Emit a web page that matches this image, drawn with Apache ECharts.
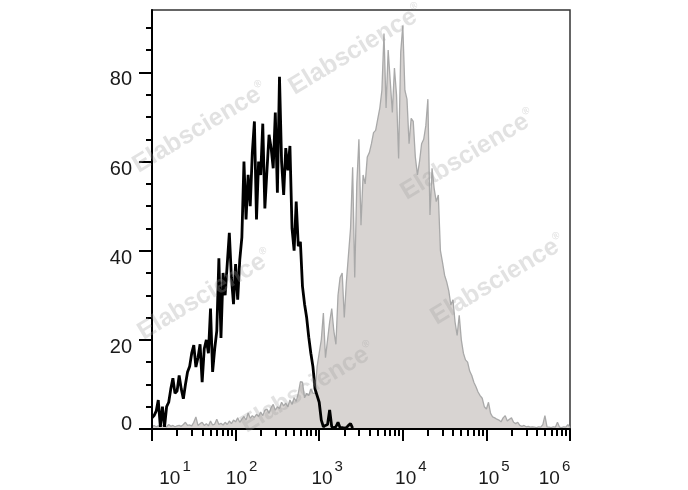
<!DOCTYPE html>
<html>
<head>
<meta charset="utf-8">
<script src="https://cdn.jsdelivr.net/npm/echarts@6/dist/echarts.min.js"></script>
<style>
html,body{margin:0;padding:0;background:#fff;}
#c{width:688px;height:490px;}
</style>
</head>
<body>
<div id="c"></div>
<script>
// ---------- data (x in decades: log10 of fluorescence intensity) ----------
const binStart = 1.0;
const binWidth = 0.025;

// black outline histogram (control)
const controlCounts = [2.5,3,4,6.5,0.5,5,0.5,5,6,9,11.4,8,8.5,12,9,6.8,10,12.8,14,17,
  18.8,13.9,16,19,10.5,18,20,17,27,12.8,18,22,38.3,20.4,35,30,37,44,34,28,
  37,29,38,43,60,47,57,50,62,69,47,60,57,68.5,49.5,58,66,63,58.5,71,
  53,79,60,52.5,63,58,63.5,45,40,51,41,42,32,28,25,20.6,17,14,9,7.5,
  6,2,0.5,0.8,1,4.3,0.5,0.3,0.5,1.5,0.3,0.3,0.2,0.3,0.8,1.2,0.2];

// grey filled histogram (stained)
const stainedCounts = [0.5,0.8,0.5,0.7,0.5,0.8,0.6,0.5,1,0.6,
  0.8,0.5,0.7,0.8,0.6,1,1.5,0.8,0.9,0.7,
  1.5,2.7,0.8,1.2,1.5,0.8,1.2,0.7,1.8,0.9,
  1.1,2.2,1,1.3,0.9,1.5,1,1.8,1.2,2,
  1.6,2.5,1.5,2.2,2.8,2,3.6,2.4,3,2.6,
  3.3,2.8,3.8,3,4.2,4.5,3.5,4.8,5.5,4.2,
  5,4.6,6,5.2,5.8,5,6.5,5.5,7,6.2,
  8,10.6,10.5,7,8,7.5,9,8,8,14,
  17,20,26,16,20,24,27,22,19,30,
  34,35,25,33,39,45,58.7,34,55,65,
  45.7,57,55,61,62,64,66.5,67,69.5,72,
  76,88.7,72,85,78,71,81,75,60.7,84.5,
  90.5,76,74,64,69.7,69,61,57,60,64,
  65,68,74,48,58.5,54,51,52.5,40,37.4,
  34.5,33,31,27.8,29,24,21,25.5,20,17,
  15.5,15,13,12,10.5,9.5,8.3,7.5,6.9,5,
  4.5,6,3.5,2.7,2.5,2.2,2,1.6,2.5,3,
  1.8,2.2,2.5,1.5,1.2,1.5,0.8,0.6,0.8,0.5,
  0.6,0.4,0.5,0.4,0.3,0.5,0.4,1,3,0.5,
  0.4,0.3,0.5,0.4,1.5,0.4,0.3,0.5,0.4,1,
  0.3];

// axis ticks
const decades = [1,2,3,4,5,6];
const minorMultipliers = [2,3,4,5,6,7,8,9];
const yMajorTicks = [0,20,40,60,80];
const yMinorTicks = [5,10,15,25,30,35,45,50,55,65,70,75,85,90];
const yMax = 94;
const watermarkText = 'Elabscience';

// ---------- layout / style (not data) ----------
const watermarkCenters = [[200,128],[356,50],[468,155],[205,295],[498,280],[308,388]];
const xLabelLeftPad = {1:46, 2:12, 3:16, 4:16, 5:15, 6:0};
const xLabelRightPad = {1:0, 2:0, 3:0, 4:0, 5:0, 6:31};
const FONT = 'Arial, "Liberation Sans", Helvetica, sans-serif';

const toPairs = arr => arr.map((v, i) => [binStart + i * binWidth, v]);
const xMinorTicks = [];
decades.slice(0, -1).forEach(d => minorMultipliers.forEach(m => xMinorTicks.push(d + Math.log10(m))));

const xRich = {};
decades.forEach(d => {
  xRich['b' + d] = {fontSize: 19, color: '#1a1a1a', fontFamily: FONT, padding: [10, 0, 0, xLabelLeftPad[d]]};
  xRich['s' + d] = {fontSize: 15, color: '#1a1a1a', fontFamily: FONT, verticalAlign: 'top', padding: [0, xLabelRightPad[d], 0, 2]};
});

const chart = echarts.init(document.getElementById('c'), null, {renderer: 'canvas'});
chart.setOption({
  animation: false,
  backgroundColor: '#fff',
  textStyle: {fontFamily: FONT},
  grid: {left: 152, top: 10, right: 118, bottom: 61, show: true, borderColor: '#333', borderWidth: 1.5, backgroundColor: 'transparent'},
  xAxis: [
    {
      type: 'value', min: 1, max: 6, interval: 1, z: 5,
      axisLine: {show: true, onZero: false, lineStyle: {color: '#000', width: 2}},
      axisTick: {show: true, length: 12, lineStyle: {color: '#000', width: 2}},
      splitLine: {show: false},
      axisLabel: {
        margin: 30,
        formatter: v => { const d = Math.round(v); return '{b' + d + '|10}{s' + d + '|' + d + '}'; },
        rich: xRich
      }
    },
    {
      type: 'value', min: 1, max: 6, position: 'bottom', z: 5,
      axisLine: {show: false},
      axisTick: {show: true, customValues: xMinorTicks, length: 7, lineStyle: {color: '#000', width: 2}},
      axisLabel: {show: false},
      splitLine: {show: false}
    }
  ],
  yAxis: [
    {
      type: 'value', min: 0, max: yMax, z: 5,
      axisLine: {show: true, onZero: false, lineStyle: {color: '#000', width: 2}},
      axisTick: {show: true, customValues: yMajorTicks, length: 13, lineStyle: {color: '#000', width: 2}},
      splitLine: {show: false},
      axisLabel: {
        customValues: yMajorTicks,
        margin: 20,
        formatter: v => v === 0 ? '{z|0}' : '{d|' + v + '}',
        rich: {
          d: {fontSize: 20, color: '#1a1a1a', fontFamily: FONT, padding: [15, 0, 0, 0]},
          z: {fontSize: 20, color: '#1a1a1a', fontFamily: FONT, padding: [0, 0, 10, 0]}
        }
      }
    },
    {
      type: 'value', min: 0, max: yMax, position: 'left', z: 5,
      axisLine: {show: false},
      axisTick: {show: true, customValues: yMinorTicks, length: 6, lineStyle: {color: '#000', width: 2}},
      axisLabel: {show: false},
      splitLine: {show: false}
    }
  ],
  series: [
    {
      type: 'line', name: 'stained', data: toPairs(stainedCounts),
      xAxisIndex: 0, yAxisIndex: 0, symbol: 'none', z: 2,
      lineStyle: {color: '#a9a9a9', width: 1.3},
      areaStyle: {color: '#d8d4d2', opacity: 1}
    },
    {
      type: 'line', name: 'control', data: toPairs(controlCounts),
      xAxisIndex: 0, yAxisIndex: 0, symbol: 'none', z: 3,
      lineStyle: {color: '#000', width: 2.8}
    }
  ],
  graphic: watermarkCenters.map(([x, y]) => ({
    type: 'text', x: x, y: y, rotation: 31 * Math.PI / 180, z: 100, silent: true,
    style: {
      text: '{w|' + watermarkText + '}{r|®}',
      align: 'center', verticalAlign: 'middle',
      rich: {
        w: {fontSize: 25, fontWeight: 'bold', fontFamily: FONT, fill: 'rgba(160,160,160,0.3)'},
        r: {fontSize: 10, fontFamily: FONT, fill: 'rgba(160,160,160,0.35)', verticalAlign: 'top'}
      }
    }
  }))
});
</script>
</body>
</html>
